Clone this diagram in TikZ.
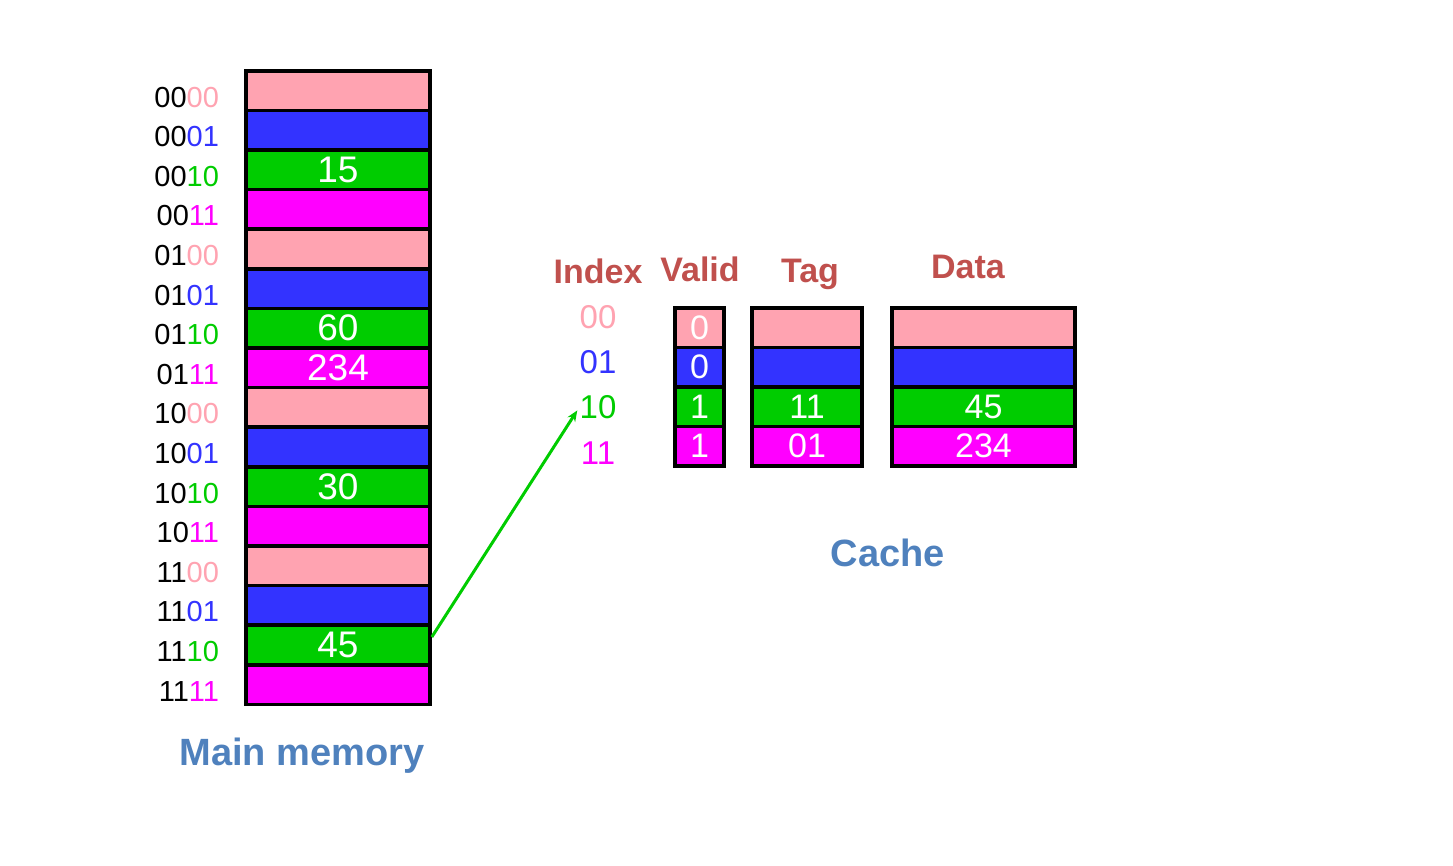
\documentclass[tikz,border=0pt]{standalone}
\usepackage{fontspec}
\setmainfont{Liberation Sans}
\usetikzlibrary{arrows.meta, positioning}
\definecolor{rowpink}{RGB}{255, 163, 177}
\definecolor{rowblue}{RGB}{51, 51, 255}
\definecolor{rowgreen}{RGB}{0, 204, 0}
\definecolor{rowmagenta}{RGB}{255, 0, 255}
\definecolor{headred}{RGB}{192, 80, 77}
\definecolor{titleblue}{RGB}{79, 129, 189}

\begin{document}
\begin{tikzpicture}[x=1pt, y=-1pt,
    cell/.style={draw=black, line width=3.6pt, inner sep=0pt, text=white},
    memcell/.style={cell, minimum width=184pt, minimum height=39.6pt, font=\fontsize{37}{37}\selectfont},
    cachecell/.style={cell, minimum height=39.5pt, font=\fontsize{34}{34}\selectfont},
    addr/.style={inner sep=0pt, font=\fontsize{29}{29}\selectfont},
    idx/.style={inner sep=0pt, font=\fontsize{33}{33}\selectfont},
    colhead/.style={anchor=base, inner sep=0pt, text=headred, font=\fontsize{34}{34}\selectfont\bfseries},
    title/.style={anchor=base, inner sep=0pt, text=titleblue, font=\fontsize{38}{38}\selectfont\bfseries}]
    \useasboundingbox (0,0) rectangle (1453,865);

    % Hauptspeicher
    \foreach \c/\v [count=\i from 0] in {rowpink/{},rowblue/{},rowgreen/15,rowmagenta/{},
        rowpink/{},rowblue/{},rowgreen/60,rowmagenta/234,
        rowpink/{},rowblue/{},rowgreen/30,rowmagenta/{},
        rowpink/{},rowblue/{},rowgreen/45,rowmagenta/{}}
        \node[memcell, fill=\c] (m\i) at (338, 90.6+39.6*\i) {\v};

    % Adressen
    \foreach \h [count=\a from 0] in {00,01,10,11}
        \foreach \l/\c [count=\b from 0] in {00/rowpink,01/rowblue,10/rowgreen,11/rowmagenta} {
            \pgfmathtruncatemacro{\n}{4*\a+\b}
            \node[addr, left=25pt of m\n, yshift=-6.5pt] (a\n) {\h\textcolor{\c}{\l}};
        }

    % Cache
    \foreach \c/\vv/\tt/\dd [count=\j from 0] in {rowpink/0/{}/{},rowblue/0/{}/{},
        rowgreen/1/11/45,rowmagenta/1/01/234} {
        \node[cachecell, fill=\c, minimum width=49pt] (v\j) at (699.5, 327.75+39.5*\j) {\vv};
        \node[cachecell, fill=\c, minimum width=110pt] (t\j) at (807, 327.75+39.5*\j) {\tt};
        \node[cachecell, fill=\c, minimum width=183pt] (d\j) at (983.5, 327.75+39.5*\j) {\dd};
    }

    % Index
    \node[idx, text=rowpink] (i0) at (598, 317) {00};
    \node[idx, text=rowblue] (i1) at (598, 362) {01};
    \node[idx, text=rowgreen] (i2) at (598, 407) {10};
    \node[idx, text=rowmagenta] (i3) at (598, 453) {11};

    % Spaltenkoepfe
    \node[colhead] (hindex) at (598, 283) {Index};
    \node[colhead] (hvalid) at (700, 281) {Valid};
    \node[colhead] (htag) at (810, 282) {Tag};
    \node[colhead] (hdata) at (968, 278) {Data};

    % Titel
    \node[title] (tmem) at (302, 765) {Main memory};
    \node[title] (tcache) at (888, 566) {Cache};

    % Zuordnung
    \draw[-{Stealth[length=11pt, width=9pt]}, line width=3pt, rowgreen, shorten >=4pt]
        ([yshift=8pt]m14.east) -- (i2.west);
\end{tikzpicture}
\end{document}
